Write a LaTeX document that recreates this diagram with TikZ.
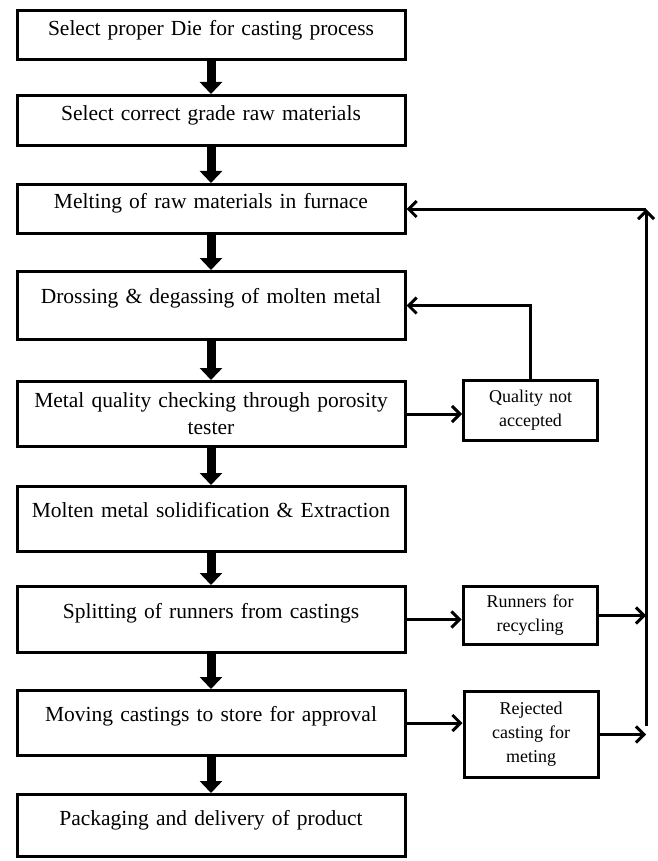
\documentclass[tikz,border=0pt]{standalone}
\usepackage{fontspec}
\setmainfont{Liberation Serif}
\usetikzlibrary{arrows.meta}
\tikzset{
	procbox/.style={draw, line width=3pt, inner sep=0pt, minimum width=388pt, text width=372pt, align=center, anchor=north, font=\fontsize{21.5}{27}\selectfont},
	sidebox/.style={draw, line width=3pt, inner sep=0pt, minimum width=134pt, text width=124pt, align=center, font=\fontsize{18}{24}\selectfont},
	downarrow/.style={line width=9pt, -{Triangle[length=12pt,width=22pt]}},
	flowline/.style={line width=3pt, -{Straight Barb[length=8pt,width=16pt]}}
}

\begin{document}
\begin{tikzpicture}[x=1pt, y=-1pt]
			\useasboundingbox (0,0) rectangle (657,861);
			% main process steps
			\begin{scope}
				\node[procbox, text height=25pt, text depth=24pt] (die) at (211,9) {Select proper Die for casting process};
				\node[procbox, text height=25pt, text depth=25pt] (grade) at (211,94) {Select correct grade raw materials};
				\node[procbox, text height=24pt, text depth=25pt] (melt) at (211,183) {Melting of raw materials in furnace};
				\node[procbox, text height=32pt, text depth=36pt] (dross) at (211,270) {Drossing \& degassing of molten metal};
				\node[procbox, text height=26pt, text depth=39pt] (porosity) at (211,380) {Metal quality checking through porosity\\tester};
				\node[procbox, text height=31pt, text depth=34pt] (solid) at (211,485) {Molten metal solidification \& Extraction};
				\node[procbox, text height=32pt, text depth=34pt] (split) at (211,585) {Splitting of runners from castings};
				\node[procbox, text height=31pt, text depth=34pt] (store) at (211,689) {Moving castings to store for approval};
				\node[procbox, text height=31pt, text depth=31pt] (pack) at (211,793) {Packaging and delivery of product};
			\end{scope}
			% side boxes
			\begin{scope}
				\node[sidebox, minimum height=60pt] (notacc) at (530.5,410.5) {Quality not\\accepted};
				\node[sidebox, minimum height=58pt] (runners) at (530,615.5) {Runners for\\recycling};
				\node[sidebox, minimum height=86pt] (reject) at (531,734.5) {Rejected\\casting for\\meting};
			\end{scope}
			% thick arrows down the main line
			\foreach \from/\to in {die/grade, grade/melt, melt/dross, dross/porosity, porosity/solid, solid/split, split/store, store/pack}
				\draw[downarrow] (\from.south) -- (\to.north);
			% returns
			\coordinate (bustop) at (646,209);
			\coordinate (busbot) at (646,726);
			\draw[flowline] (porosity.east) -- (porosity.east -| notacc.west);
			\draw[flowline] (notacc.north) |- (dross.east);
			\draw[flowline] (split.east) -- (split.east -| runners.west);
			\draw[flowline] (store.east) -- (store.east -| reject.west);
			\draw[flowline] (runners.east) -- (runners.east -| busbot);
			\draw[flowline] (reject.east) -- (reject.east -| busbot);
			\draw[flowline] (busbot) -- (bustop);
			\draw[flowline] (bustop) -- (melt.east);
		\end{tikzpicture}
\end{document}
